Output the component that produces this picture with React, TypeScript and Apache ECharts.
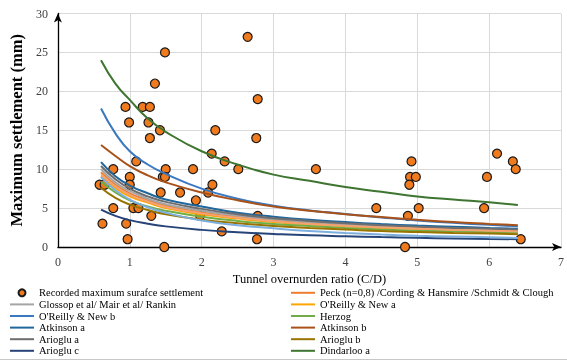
import React, { useEffect, useRef } from "react";
import * as echarts from "echarts";

const FONT = "'Liberation Serif', 'DejaVu Serif', serif";

// Recorded points (C/D, settlement mm)
const recordedX = [0.58, 0.65, 0.62, 0.77, 0.77, 0.94, 0.99, 0.95, 0.97, 1.0, 1.0, 1.05, 1.09, 1.12, 1.18, 1.28, 1.26, 1.28, 1.3, 1.35, 1.42, 1.43, 1.46, 1.49, 1.5, 1.49, 1.48, 1.7, 1.88, 1.92, 1.98, 2.09, 2.14, 2.15, 2.19, 2.32, 2.28, 2.51, 2.64, 2.78, 2.76, 2.78, 2.77, 3.59, 4.43, 4.92, 4.9, 4.98, 4.89, 4.87, 4.83, 5.02, 5.97, 5.93, 6.11, 6.33, 6.37, 6.44];
const recordedY = [8, 8, 3, 10, 5, 18, 16, 3, 1, 9, 8, 5, 11, 5, 18, 18, 16, 14, 4, 21, 15, 7, 9, 25, 10, 9, 0, 7, 10, 6, 4, 7, 12, 8, 15, 11, 2, 10, 27, 19, 14, 4, 1, 10, 5, 11, 9, 9, 8, 4, 0, 5, 9, 5, 12, 11, 10, 1];

// Curve sample positions (C/D)
const curveX = [0.6, 0.8, 1, 1.25, 1.5, 2, 2.5, 3, 3.5, 4, 4.5, 5, 5.5, 6, 6.4];
const peck = [9.6, 8.0, 6.9, 6.0, 5.3, 4.45, 3.85, 3.4, 3.05, 2.8, 2.6, 2.4, 2.25, 2.15, 2.05];
const glossop = [10.0, 8.3, 7.2, 6.2, 5.5, 4.65, 4.0, 3.55, 3.2, 2.9, 2.7, 2.5, 2.35, 2.25, 2.15];
const oreillyA = [9.1, 7.6, 6.5, 5.7, 5.0, 4.2, 3.65, 3.2, 2.9, 2.65, 2.45, 2.3, 2.15, 2.05, 1.95];
const oreillyB = [17.8, 14.6, 12.3, 10.6, 9.4, 7.5, 6.2, 5.3, 4.7, 4.25, 3.8, 3.4, 3.1, 2.85, 2.65];
const herzog = [8.4, 7.0, 6.0, 5.2, 4.65, 3.9, 3.35, 2.95, 2.7, 2.45, 2.25, 2.1, 2.0, 1.9, 1.8];
const atkinsonA = [10.9, 9.1, 7.9, 6.9, 6.1, 5.2, 4.4, 3.9, 3.5, 3.2, 2.95, 2.75, 2.6, 2.45, 2.35];
const atkinsonB = [13.1, 11.7, 10.4, 9.2, 8.3, 7.0, 6.0, 5.2, 4.65, 4.2, 3.85, 3.5, 3.2, 2.97, 2.8];
const ariogluA = [10.4, 8.7, 7.5, 6.5, 5.8, 4.9, 4.2, 3.7, 3.35, 3.05, 2.8, 2.6, 2.45, 2.35, 2.25];
const ariogluB = [7.6, 6.3, 5.45, 4.75, 4.2, 3.5, 3.05, 2.7, 2.45, 2.25, 2.05, 1.92, 1.8, 1.72, 1.65];
const ariogluC = [4.8, 4.0, 3.45, 3.0, 2.65, 2.2, 1.9, 1.68, 1.5, 1.38, 1.27, 1.18, 1.1, 1.04, 1.0];
const dindarlooA = [24, 21, 18.9, 16.5, 14.8, 12.3, 10.6, 9.3, 8.5, 7.7, 7.1, 6.5, 6.1, 5.75, 5.4];
// further series whose legend entries are cut off in the reference
const extraBlue = [9.0, 7.3, 6.1, 5.1, 4.4, 3.4, 2.8, 2.4, 2.05, 1.8, 1.6, 1.45, 1.35, 1.25, 1.15];
const extraOrange = [9.35, 7.8, 6.7, 5.85, 5.15, 4.32, 3.75, 3.3, 2.97, 2.72, 2.52, 2.35, 2.2, 2.1, 2.0];

const NAMES = {
  rec: "Recorded maximum surafce settlement",
  peck: "Peck (n=0,8) /Cording & Hansmire /Schmidt & Clough",
  glossop: "Glossop et al/ Mair et al/ Rankin",
  oa: "O'Reilly & New a",
  ob: "O'Reilly & New b",
  herzog: "Herzog",
  aa: "Atkinson a",
  ab: "Atkinson b",
  ara: "Arioglu a",
  arb: "Arioglu b",
  arc: "Arioglu c",
  da: "Dindarloo a",
};

const lines: [string, number[], string][] = [
  [NAMES.peck, peck, "#ED7D31"],
  [NAMES.glossop, glossop, "#A5A5A5"],
  [NAMES.oa, oreillyA, "#FFA500"],
  [NAMES.ob, oreillyB, "#3A78C0"],
  [NAMES.herzog, herzog, "#70AD47"],
  [NAMES.aa, atkinsonA, "#22679C"],
  [NAMES.ab, atkinsonB, "#A8521A"],
  [NAMES.ara, ariogluA, "#6E6E6E"],
  [NAMES.arb, ariogluB, "#997300"],
  [NAMES.arc, ariogluC, "#264478"],
  [NAMES.da, dindarlooA, "#3E7530"],
  ["extra1", extraBlue, "#7CAFDD"],
  ["extra2", extraOrange, "#F4A272"],
];

const LINE_ICON = "path://M0,0H24V2H0Z";

export default function App() {
  const ref = useRef<HTMLDivElement>(null);
  useEffect(() => {
    if (!ref.current) return;
    const chart = echarts.init(ref.current, undefined, { renderer: "svg" });
    const legendText = { fontFamily: FONT, fontSize: 10.5, color: "#000", lineHeight: 11.6 };
    const item = (n: string) => (n === NAMES.rec ? { name: n, icon: "circle" } : { name: n, icon: LINE_ICON });
    const series: any[] = [
      {
        name: NAMES.rec,
        type: "scatter",
        data: recordedX.map((x, i) => [x, recordedY[i]]),
        symbolSize: 9,
        itemStyle: { color: "#F07A1E", borderColor: "#1a1a1a", borderWidth: 1.2, opacity: 1 },
      },
      ...lines.map(([name, ys, color]) => ({
        name,
        type: "line",
        data: curveX.map((x, i) => [x, ys[i]]),
        smooth: true,
        symbol: "none",
        color,
        lineStyle: { color, width: 2 },
      })),
    ];
    chart.setOption({
      animation: false,
      grid: { left: 56, right: 4, top: 13.5, bottom: 115 },
      xAxis: {
        type: "value",
        min: 0,
        max: 7,
        interval: 1,
        name: "Tunnel overnurden ratio (C/D)",
        nameLocation: "middle",
        nameGap: 22,
        nameTextStyle: { fontFamily: FONT, fontSize: 12.5, color: "#000" },
        axisLine: { show: true, onZero: false, symbol: ["none", "arrow"], symbolSize: [6, 9], lineStyle: { color: "#000", width: 1.3 } },
        axisTick: { show: false },
        axisLabel: { fontFamily: FONT, fontSize: 12, color: "#404040", margin: 9 },
        splitLine: { show: true, lineStyle: { color: "#D9D9D9", width: 1 } },
      },
      yAxis: {
        type: "value",
        min: 0,
        max: 30,
        interval: 5,
        name: "Maximum settlement (mm)",
        nameLocation: "middle",
        nameGap: 25,
        nameTextStyle: { fontFamily: FONT, fontSize: 16.5, fontWeight: "bold", color: "#000" },
        axisLine: { show: true, onZero: false, symbol: ["none", "arrow"], symbolSize: [6, 9], lineStyle: { color: "#000", width: 1.3 } },
        axisTick: { show: false },
        axisLabel: { fontFamily: FONT, fontSize: 12, color: "#404040", margin: 10 },
        splitLine: { show: true, lineStyle: { color: "#D9D9D9", width: 1 } },
      },
      legend: [
        {
          orient: "vertical",
          left: 10,
          top: 287,
          itemWidth: 24,
          itemHeight: 7,
          itemGap: 0,
          padding: 0,
          textStyle: legendText,
          data: [NAMES.rec, NAMES.glossop, NAMES.ob, NAMES.aa, NAMES.ara, NAMES.arc].map(item),
        },
        {
          orient: "vertical",
          left: 291,
          top: 287,
          itemWidth: 24,
          itemHeight: 7,
          itemGap: 0,
          padding: 0,
          textStyle: legendText,
          data: [NAMES.peck, NAMES.oa, NAMES.herzog, NAMES.ab, NAMES.arb, NAMES.da].map(item),
        },
      ],
      graphic: [
        {
          type: "line",
          shape: { x1: 0, y1: 359.5, x2: 567, y2: 359.5 },
          style: { stroke: "#C8C8C8", lineWidth: 1 },
        },
      ],
      series,
    });
    return () => chart.dispose();
  }, []);
  return <div ref={ref} style={{ position: "fixed", left: 0, top: 0, width: 567, height: 362 }} />;
}
